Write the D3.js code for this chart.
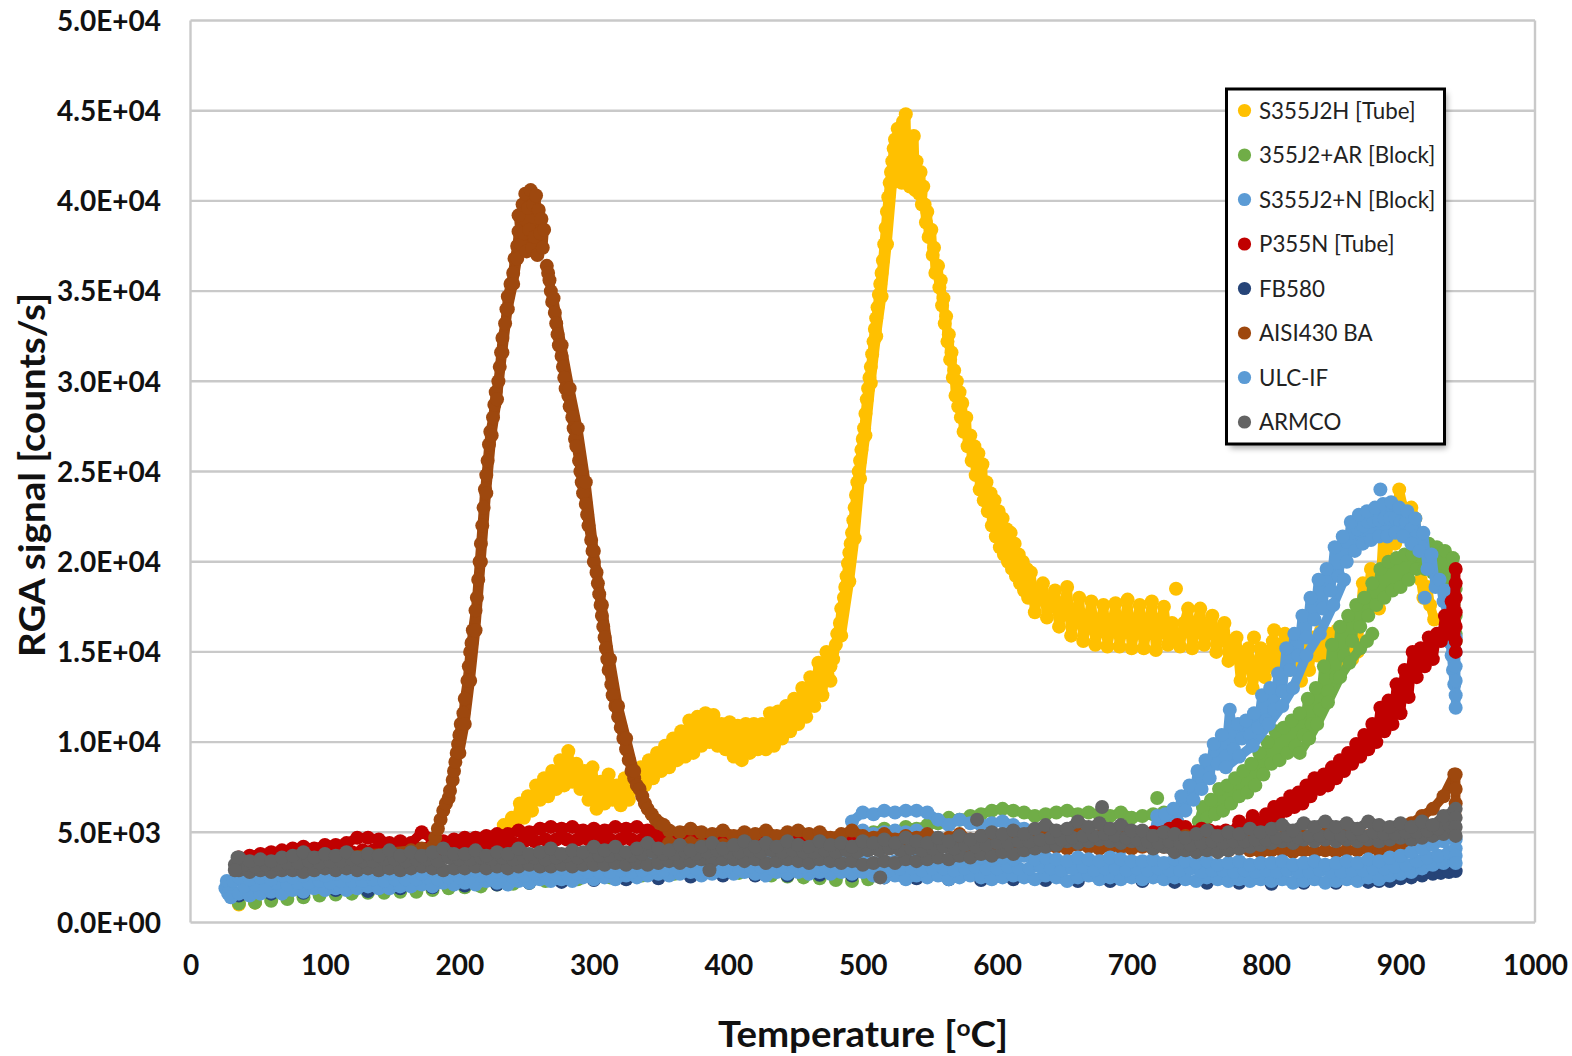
<!DOCTYPE html>
<html><head><meta charset="utf-8">
<script src="https://cdn.jsdelivr.net/npm/d3@7"></script>
<style>html,body{margin:0;padding:0;background:#fff;overflow:hidden}text{font-family:Lato,Carlito,sans-serif}</style>
</head><body><svg id="c" width="1572" height="1056"></svg>
<script>
// All signal values are in thousands of counts/s.
const yTickLabels=["0.0E+00","5.0E+03","1.0E+04","1.5E+04","2.0E+04","2.5E+04","3.0E+04","3.5E+04","4.0E+04","4.5E+04","5.0E+04"];
const yTicks=[0,5,10,15,20,25,30,35,40,45,50];
const xTicks=[0,100,200,300,400,500,600,700,800,900,1000];
const legendNames=["S355J2H [Tube]","355J2+AR [Block]","S355J2+N [Block]","P355N [Tube]","FB580","AISI430 BA","ULC-IF","ARMCO"];
const legendColors=["#ffc000","#70ad47","#5b9bd5","#c00000","#264478","#9e480e","#5b9bd5","#636363"];

const gridA=[36,44,52,60,68,76,84,92,100,108,116,124,132,140,148,156,164,172,180,188,196,204,212,220,228,236,244,252,260,268,276,284,292,300,308,316,324,332,340,348,356,364,372,380,388,396,404,412,420,428,436,444,452,460,468,476,484,492,500,508,516,524,532,540,548,556,564,572,580,588,596,604,612,620,628,636,644,652,660,668,676,684,692,700,708,716,724,732,740,748,756,764,772,780,788,796,804,812,820,828,836,844,852,860,868,876,884,892,900,908,916,924,932,940];
const gridB=[40,48,56,64,72,80,88,96,104,112,120,128,136,144,152,160,168,176,184,192,200,208,216,224,232,240,248,256,264,272,280,288,296,304,312,320,328,336,344,352,360,368,376,384,392,400,408,416,424,432,440,448,456,464,472,480,488,496,504,512,520,528,536,544,552,560,568,576,584,592,600,608,616,624,632,640,648,656,664,672,680,688,696,704,712,720,728,736,744,752,760,768,776,784,792,800,808,816,824,832,840,848,856,864,872,880,888,896,904,912,920,928,936];

// S355J2H
const yellowLowT=[36,48,60,72,84,96,108,120,132,144,156,168,180,192,204,216,228];
const yellowLowV=[1.0,1.1,1.4,1.5,1.7,1.9,2.1,2.4,2.6,2.9,3.1,3.3,3.5,3.7,3.9,4.2,4.6];
const yellowHumpT=[230,233,236,239,242,245,248,251,254,257,260,263,266,269,272,275,278,281,284,287,290,293,296,299,302,305,308,311,314,317,320,323,326,329,332,335,338,341,344,347,350,353,356,359,362,365,368,371,374,377,380,383,386,389,392,395,398,401,404,407,410,413,416,419,422,425,428,431,434,437,440,443,446,449,452,455,458,461,464,467,470,473,476];
const yellowHumpV=[4.8,5.4,5.0,5.8,5.6,6.6,5.8,7.0,6.2,7.6,6.8,8.0,7.0,8.4,7.4,9.0,7.6,9.5,7.8,8.8,7.4,8.4,6.8,8.6,6.3,7.8,6.6,8.2,6.8,7.6,6.5,8.0,6.8,7.8,7.4,8.6,7.6,9.0,8.0,9.4,8.4,9.8,8.6,10.2,9.0,10.6,9.2,11.2,9.4,11.4,9.8,11.6,10.0,11.5,9.8,11.0,9.6,11.1,9.2,10.9,9.0,11.0,9.4,11.0,9.6,11.0,9.6,11.6,9.8,11.7,10.2,12,10.6,12.4,11,13,11.4,13.6,12,14.4,12.6,15,13.4];
const yellowMidT=[276,284,292,300,308,316,324,332,340,348,356,364,372,380,388,396,404,412,420,428,436,444,452,460,468,476];
const yellowMidV=[8.4,8.6,8,7.5,7.4,7.2,7.4,8,8.4,8.9,9.4,9.8,10.3,10.7,10.8,10.4,10.0,10.0,10.3,10.3,10.7,11.3,12,12.5,13.5,14.2];
const yellowRiseT=[478,480,481,483,484,486,487,488,489,490,491,492,493,494,495,496,497,498,499,500,501,502,503,504,505,506,507,508,509,510,511,512,513,514,515,516,517,518,519,520,521,522,523,524];
const yellowRiseV=[14.6,15.4,16,16.6,17.4,18,18.6,19.2,19.9,20.5,21,21.6,22.3,23,23.7,24.4,25,25.6,26.2,26.8,27.4,28.2,29,29.6,30.2,30.8,31.5,32.2,32.9,33.5,34.1,34.8,35.4,36,36.7,37.6,38.5,39.4,40.2,41,41.6,42.2,42.9,43.4];
const yellowRise2T=[484,490,494,498,502,506,510,514,518,522,526];
const yellowRise2V=[15.9,18.9,21.3,24.6,27.0,29.9,32.5,34.7,37.6,41,42.5];
const yellowTopT=[525,526,527,528,529,530,531,532,533,534,535,536,537,538,539,540,541,542,543,544,545];
const yellowTopV=[41.2,44.0,42,43.6,41,44.4,42.4,44.8,41.4,43.4,40.8,42.8,41.6,43.6,40.6,42.2,41.2,40.4,41.6,39.8,40.8];
const yellowFallT=[546,547,548,549,551,552,553,554,556,557,558,559,560,561,562,563,564,565,566,567,568,569,570,571,572,573,574,575,577,578,580,581,583,584,586,587,589,590,592,593,595,596,598,599,601,602,604,605,607,608,610,611,613,614,616,617,619,620,622,623];
const yellowFallV=[39.8,38.8,39.4,38,38.4,37,37.4,36,36.4,35.2,35.6,34.2,34.6,33.2,33.6,32.2,32.6,31.2,31.6,30.2,30.6,29.2,30,28.6,29.4,28,28.8,27.2,28,26.4,27,25.6,26.4,24.8,26,24,25.4,23.4,24.4,22.8,23.8,22,23.4,21.4,22.8,20.8,22.4,20.4,21.8,20,21.6,19.6,21,19.2,20.4,18.8,20,18.4,19.6,18];
const yellowPlateauT=[625,628,631,634,637,640,643,646,649,652,655,658,661,664,667,670,673,676,679,682,685,688,691,694,697,700,703,706,709,712,715,718,721,724,727,730,736,739,742,745,748,751,754,757,760,763,766,769,772,775,778,781,784,787,790,793,796,799,802,805,808,811,814,817,820];
const yellowPlateauV=[19.4,17.2,18.4,18.8,16.9,18,18.4,16.4,17.4,18.6,15.9,17,18,15.6,16.6,17.8,15.4,16.4,17.6,15.3,16.4,17.7,15.3,16.4,17.9,15.2,16.4,17.6,15.2,16.4,17.8,15.1,16.5,17.5,15.4,16.6,15.3,16.6,17.4,15.2,16.4,17.4,15.4,16.4,17,15,16.2,16.6,14.5,15.6,15.8,13.4,14.8,15.2,13,14.2,15.2,13.6,14.8,15.6,14,15,16,14,15.2];
const yellowOutT=[733,791,806];
const yellowOutV=[18.5,15.8,16.2];
const yellowEndT=[823,826,829,832,835,838,841,844,847,850,853,856,860,864,868,872,875,878,881,884,887,890,893,896,899,902,905,908,911,913,915,917,920,922,925];
const yellowEndV=[14.6,13.4,15.2,14,15.8,14.8,16.2,14.4,16,14.6,16.2,14.4,15.8,14.6,15,18.8,17.6,19.6,18.4,17.4,21.4,20,22.6,21,24,23,22,23,22.4,20.6,19,18,18.6,17.6,16.8];

// 355J2+AR
const greenLowT=[36,48,60,72,84,96,108,120,132,144,156,168,180,192,204,216,228,240,252,264,276,288,300,312,324,336,348,360,372,384,396,408,420,432,444,456,468,480,492,504];
const greenLowV=[1.05,1.1,1.2,1.3,1.4,1.5,1.55,1.6,1.65,1.65,1.7,1.7,1.8,1.9,1.95,2.0,2.1,2.15,2.2,2.3,2.35,2.4,2.45,2.5,2.55,2.6,2.65,2.7,2.75,2.8,2.75,2.75,2.75,2.6,2.55,2.5,2.45,2.35,2.3,2.4];
const greenBandV=[5.0,5.2,5.0,5.3,5.2,5.4,5.5,5.8,5.7,5.9,6.0,6.2,6.3,6.2,6.1,5.9,6.0,6.1,6.2,6.0,6.1,6.0,5.9,6.1,5.8,5.9,6.0,6.1];
const greenRiseT=[750,753,756,759,762,765,768,771,774,777,780,783,786,789,792,795,798,801,804,807,810,813,816,819,822,825,828,831,834,837,840,843,846,849,852,855,858,861,864,867,870,873,876,879,882,885,888,891,894,897,900,903,906,909,912,915,918,921,924,927,930,933,936,939,941,941,941,941];
const greenRiseV=[5.6,6.4,5.8,6.8,6.0,7.4,6.2,7.6,6.6,8.0,7.0,8.4,7.2,8.8,7.6,9.4,8.2,10,8.8,10.6,9.0,10.8,9.4,11.2,9.8,11.6,10.4,12.4,11,13,11.8,14.2,12.8,15.4,13.6,16.4,14.8,17,15.6,17.6,16.4,18,17,18.8,17.6,19.6,18,20,18.4,20.2,18.6,20.4,19,20.4,19.6,20.8,19.6,21,19.4,20.8,19.2,20.6,18.4,20.2,17,16,15.6,18.5];
const greenLow2T=[825,832,838,846,855,862,870,875,879];
const greenLow2V=[9.4,10.2,11,12.2,13.6,14.4,15.2,15.6,16];
const greenOutT=[719];
const greenOutV=[6.9];

// S355J2+N
const blueBandT=[492,500,508,516,524,532,540,548,556,564,572,580,588,596,604,612,620,628,636,644,652,660,668,676,684,692,700,708];
const blueBandTopV=[5.6,6.1,6.0,6.2,6.1,6.2,6.2,6.1,5.7,5.4,5.7,5.5,5.4,5.5,5.6,5.4,5.2,5.0,4.9,5.0,4.8,4.9,4.8,4.7,4.8,4.7,4.8,4.9];
const blueBandLowV=[4.9,5.1,4.9,5.0,5.1,5.0,5.1,4.9,4.7,4.6,4.7,4.5,4.6,4.5,4.6,4.5,4.4,4.3,4.2,4.3,4.2,4.3,4.2,4.1,4.2,4.1,4.2,4.3];
const blueRiseT=[716,719,722,725,728,731,734,737,740,743,746,749,752,755,758,761,764,767,770,773,776,779,782,785,788,791,794,797,800,803,806,809,812,815,818,821,824,827,830,833,836,839,842,845,848,851,854,857,860,863,866,869,872,875,878,881,884,887,890,893,896,899,902,905,908,911,914,917,920,923,926,929,932,933,934,935,936,937,938,939,940,941,941,941,941,941,941];
const blueRiseV=[4.6,5.9,4.9,6.0,5.2,6.3,5.6,7.0,6.2,7.6,6.8,8.4,7.4,9.0,8.0,9.9,8.8,10.4,9.2,11.8,9.6,11.0,10.2,11.2,10.4,11.6,10.8,12.6,11.2,13.0,11.8,13.8,12.8,15.2,14.0,16.0,14.8,17.0,15.8,18.0,16.8,19.0,17.4,19.6,18.4,20.8,19.2,21.4,20,22.2,20.6,22.6,21,22.8,21.2,23,21.4,23.2,21.4,23.3,21.6,23,21.4,22.8,21,22.4,20.6,21.6,19.6,20.4,18.6,19,17.8,18.4,17,16,16.5,15.5,14.8,14,13.2,15.8,15,14.2,13.4,12.6,11.9];
const bluePeakT=[860,864,868,872,876,880,884,888,892,896,900,904,908,912,916];
const bluePeakV=[21.1,21.6,21.8,22,22.2,22.3,22.3,22.4,22.4,22.4,22.2,22.2,21.8,21.4,20.8];
const blueLow2T=[770,780,790,802,812,820,830,840,850,858];
const blueLow2V=[8.6,9.2,9.8,11,12,13,14.8,16,17.6,19];
const blueOutT=[885,918];
const blueOutV=[24,18];

// P355N
const redTopV=[3.6,3.7,3.8,3.9,4.0,4.1,4.2,4.1,4.3,4.3,4.4,4.7,4.7,4.6,4.4,4.5,4.4,5.0,4.6,4.5,4.6,4.7,4.7,4.8,4.9,4.9,5.1,5.0,5.2,5.3,5.2,5.3,5.1,5.2,5.1,5.3,5.2,5.3,5.1,5.2,5.0,4.9,4.8];
const redMidV=[3.3,3.4,3.5,3.6,3.7,3.7,3.8,3.8,3.9,3.9,3.9,4.0,4.0,4.0,4.0,4.1,4.1,4.1,4.1,4.1,4.1,4.2,4.2,4.3,4.4,4.4,4.5,4.5,4.6,4.6,4.6,4.6,4.6,4.6,4.6,4.6,4.6,4.6,4.6,4.6,4.5,4.4];
const redFlatT=[380,396,412,428,444,460,476,492,508,524,540,556,572,588,604,620,636,652,668,684,700,716,728,734,740,746,752,758,764,770];
const redFlatV=[4.8,4.8,4.7,4.7,4.6,4.6,4.5,4.5,4.4,4.4,4.4,4.4,4.4,4.4,4.5,4.5,4.6,4.7,4.8,4.8,4.9,5.0,5.2,5.4,5.3,5.0,5.2,5.1,5.0,5.1];
const redRiseT=[775,780,785,790,795,800,803,806,809,812,815,818,821,824,827,830,833,836,840,843,846,849,852,855,858,861,864,867,870,873,876,879,882,885,888,891,894,897,900,903,906,909,912,915,918,921,924,927,930,933,936,938,940,941,941,941,941,941,941,941];
const redRiseV=[5.0,5.6,5.2,5.9,5.5,6.0,5.7,6.4,5.9,6.6,6.2,7.0,6.4,7.2,6.6,7.6,7,8.0,7.4,8.2,7.6,8.6,8,9,8.4,9.4,8.8,9.9,9.2,10.4,9.6,11,10,11.9,10.6,12.3,11,13.2,11.6,14,12.5,15,13.6,15.2,14.2,15.8,14.6,16,15.6,17,16,17.8,16.6,19.6,18.8,18,17.2,16.4,15.6,15];

// FB580
const navyT=[36,60,84,108,132,156,180,204,228,252,276,300,324,348,372,396,420,444,468,492,516,540,564,588,612,636,660,684,708,732,756,780,804,828,852,876,884,892,900,908,916,924,930,936,941];
const navyV=[1.5,1.6,1.65,1.8,1.75,1.9,1.95,2.05,2.1,2.2,2.25,2.35,2.4,2.45,2.55,2.6,2.6,2.6,2.65,2.6,2.5,2.45,2.4,2.35,2.4,2.35,2.3,2.3,2.3,2.25,2.2,2.2,2.15,2.2,2.2,2.25,2.3,2.3,2.45,2.5,2.6,2.7,2.75,2.8,2.85];

// AISI430 BA
const brownLowT=[36,52,68,84,100,116,132,148,164,172];
const brownLowV=[3.0,3.1,3.3,3.5,3.6,3.7,3.8,3.9,4.0,4.1];
const brownRiseT=[178,180,182,184,186,188,190,192,193,195,196,197,198,199,200,201,203,204,206,207,208,209,210,212,213,214,215,216,217,218,219,220,221,222,223,225,226,227,229,230,231,232,234,235,236,238,240,241,243,244];
const brownRiseV=[4.0,4.2,4.7,5.2,5.7,6.2,6.6,6.9,7.3,7.9,8.4,8.9,9.4,9.9,10.4,11,11.6,12.4,13.4,14.2,15,15.5,16.2,17.3,18,19,20,21,22,23,24,24.8,25.6,26.5,27.2,28,28.7,29.4,30,30.8,31.6,32.4,33.2,34,34.7,35.4,36,36.8,37.5,38.3];
const brownRise2T=[200,204,208,212,216,220,224,228,232,236,240,243];
const brownRise2V=[9.4,11,13.4,16.2,20,23.8,27,29,31.6,34,35.4,36.8];
const brownTopT=[244,246,247,248,249,250,251,252,253,254,255,256,257,258,259,260,261,262,263];
const brownTopV=[39.2,37.6,39.8,38.2,40.4,37.2,39.6,38.4,40.6,37.4,39.8,38.0,40.3,37.0,39.5,38.2,39.0,37.4,38.4];
const brownFallT=[265,266,267,268,269,271,272,273,274,276,277,278,279,281,282,284,285,286,287,289,290,291,292,294,295,296,298,299,300,302,303,304,305,306,307,308,309,310,311,313,314,316,318,320,322,324,326,328,330,332,334,336,338,340,343,346,349,352];
const brownFallV=[36.4,36,35.6,35,34.4,33.8,33.2,32.6,32,31.4,30.8,30.2,29.6,29.2,28.6,28,27.4,26.8,26.4,25.6,25,24.4,23.8,23.2,22.6,22,21.2,20.6,20,19.4,18.8,18.2,17.6,17,16.4,15.8,15.2,14.6,14,13.2,12.6,12,11.4,10.8,10.2,9.6,9,8.4,8,7.6,7.4,7,6.6,6.3,6,5.7,5.5,5.4];
const brownFall2T=[270,276,282,288,294,300,306,312,318,324,330];
const brownFall2V=[34.6,32,29.6,27.4,24.4,20.6,17.6,14.6,12,10.2,8.4];
const brownBandTopV=[5.1,5.0,5.2,5.0,4.9,5.1,4.8,5.0,4.9,5.1,4.8,5.0,5.1,4.9,5.0,4.7,4.9,5.1,4.8,4.7,4.9,4.6,4.8,4.7,4.9,4.6,4.7,4.9,4.6,4.8,4.7,4.6,4.8,4.6,4.7,4.9,4.7,4.8,4.9,4.7,4.8,4.9,4.7,4.8,4.6,4.8,4.7,4.6,4.8,4.7,4.6,4.7,4.6,4.8,4.7,4.5,4.8,4.7,4.6,4.8,4.7,4.9,4.7,4.9,5.0,4.8,5.1,5.0,5.3,5.5,5.9,6.3,7.0,8.2];
const brownBandLowV=[4.4,4.3,4.4,4.3,4.2,4.3,4.2,4.3,4.2,4.3,4.2,4.2,4.3,4.2,4.3,4.2,4.1,4.2,4.1,4.2,4.1,4.2,4.1,4.1,4.2,4.1,4.2,4.1,4.2,4.1,4.2,4.1,4.2,4.2,4.1,4.2,4.2,4.1,4.3,4.2,4.1,4.2,4.2,4.1,4.2,4.1,4.2,4.1,4.2,4.1,4.1,4.0,4.0,4.1,4.0,3.9,4.0,4.0,3.9,4.0,3.9,4.0,3.9,4.0,4.0,4.1,4.0,4.1,4.2,4.3,4.4,4.6,5.2,6.0];
const brownEndT=[941,941,941];
const brownEndV=[8.2,7.4,6.6];

// ULC-IF
const ulcEdgeT=[26,27,28,30,32];
const ulcEdgeV=[1.9,2.3,1.6,1.4,2.3];
const ulcLowV=[1.6,1.5,1.6,1.7,1.6,1.8,1.7,1.9,1.8,1.9,1.8,1.9,2.0,1.9,1.9,2.0,2.0,2.1,2.0,2.2,2.1,2.2,2.1,2.3,2.2,2.1,2.3,2.2,2.4,2.3,2.4,2.3,2.5,2.4,2.5,2.4,2.6,2.5,2.6,2.7,2.6,2.7,2.8,2.6,2.7,2.8,2.7,2.8,2.7,2.6,2.8,2.7,2.8,2.7,2.8,2.7,2.8,2.7,2.8,2.6,2.5,2.6,2.4,2.6,2.5,2.6,2.4,2.5,2.6,2.5,2.4,2.5,2.6,2.5,2.4,2.6,2.5,2.3,2.5,2.6,2.4,2.5,2.4,2.5,2.4,2.5,2.4,2.5,2.4,2.3,2.5,2.4,2.3,2.4,2.3,2.4,2.3,2.4,2.2,2.3,2.4,2.2,2.3,2.4,2.3,2.5,2.4,2.6,2.7,2.8,3.0,3.2,3.3,3.4];
const ulcMidV=[2.0,2.1,2.0,2.2,2.1,2.2,2.2,2.3,2.2,2.3,2.3,2.3,2.4,2.3,2.4,2.4,2.4,2.5,2.4,2.5,2.5,2.5,2.6,2.5,2.6,2.5,2.6,2.7,2.6,2.7,2.7,2.7,2.8,2.8,2.8,2.9,2.8,2.9,3.0,2.9,3.0,3.0,3.0,3.1,3.0,3.1,3.0,3.1,3.1,3.0,3.1,3.1,3.1,3.0,3.1,3.1,3.0,3.1,3.1,3.0,2.9,3.0,3.0,2.9,3.0,3.0,2.9,3.0,3.1,3.0,3.0,3.1,3.0,3.0,3.1,3.0,2.9,3.0,3.1,2.9,3.0,3.0,2.9,3.0,2.9,3.0,2.9,2.9,3.0,2.8,2.9,2.9,2.8,2.9,2.8,2.9,2.8,2.9,2.8,2.8,2.9,2.8,2.8,2.9,2.9,3.0,3.0,3.1,3.2,3.4,3.6,3.7,3.9];
const ulcTopV=[2.5,2.4,2.5,2.4,2.6,2.5,2.6,2.7,2.6,2.7,2.6,2.7,2.7,2.8,2.7,2.8,2.8,2.7,2.9,2.8,2.9,2.8,2.9,2.9,2.8,3.0,2.9,3.0,2.9,3.0,3.0,3.1,3.0,3.1,3.1,3.2,3.1,3.2,3.3,3.2,3.3,3.4,3.3,3.4,3.3,3.4,3.4,3.3,3.4,3.5,3.3,3.4,3.5,3.4,3.5,3.3,3.4,3.5,3.4,3.3,3.4,3.4,3.3,3.5,3.4,3.3,3.5,3.4,3.5,3.6,3.5,3.6,3.5,3.7,3.5,3.6,3.5,3.4,3.6,3.5,3.4,3.6,3.5,3.4,3.4,3.5,3.3,3.5,3.4,3.3,3.4,3.2,3.3,3.4,3.2,3.3,3.3,3.4,3.2,3.3,3.4,3.2,3.3,3.4,3.3,3.5,3.4,3.6,3.7,3.9,4.1,4.3,4.5,4.7];
const ulcEndT=[941,941,941,941];
const ulcEndV=[4.6,4.1,3.7,3.3];

// ARMCO
const grayTopV=[3.6,3.4,3.5,3.4,3.6,3.7,3.9,3.6,3.8,3.7,3.9,3.6,3.8,3.7,4.0,3.7,3.9,3.7,3.9,4.1,3.8,3.8,4.0,3.7,3.9,3.8,4.1,3.8,3.9,4.1,3.8,4.0,3.9,4.2,4.0,4.2,3.9,4.1,4.4,4.1,4.0,4.3,4.0,4.2,4.4,4.1,4.3,4.5,4.2,4.4,4.2,4.5,4.3,4.2,4.5,4.3,4.4,4.2,4.5,4.4,4.6,4.4,4.7,4.5,4.4,4.7,4.5,4.8,4.6,4.8,5.0,4.9,5.1,4.9,5.2,5.4,5.1,5.2,5.6,5.3,5.5,5.2,5.4,5.1,5.1,4.8,5.0,4.9,4.7,4.9,5.1,4.8,5.0,4.9,5.2,5.0,5.2,5.4,5.1,5.5,5.3,5.6,5.3,5.5,5.2,5.6,5.4,5.3,5.5,5.3,5.6,5.4,5.9,6.2];
const grayMidV=[3.2,3.1,3.2,3.2,3.3,3.3,3.4,3.3,3.4,3.4,3.5,3.4,3.4,3.5,3.5,3.4,3.5,3.5,3.4,3.6,3.5,3.5,3.6,3.5,3.6,3.5,3.6,3.6,3.5,3.6,3.7,3.6,3.7,3.7,3.7,3.8,3.7,3.8,3.9,3.8,3.8,3.9,3.8,3.9,4.0,3.9,3.9,4.0,3.9,4.0,3.9,4.0,3.9,3.9,4.0,3.9,4.0,3.9,4.0,4.0,4.1,4.0,4.1,4.0,4.1,4.2,4.1,4.3,4.2,4.3,4.4,4.4,4.5,4.5,4.6,4.7,4.6,4.7,4.8,4.8,4.9,4.8,4.7,4.6,4.5,4.4,4.5,4.4,4.3,4.4,4.5,4.4,4.5,4.5,4.6,4.6,4.7,4.8,4.7,4.8,4.8,4.9,4.8,4.9,4.8,5.0,4.9,4.9,5.0,5.0,5.1,5.2,5.4];
const grayLowV=[2.9,2.8,2.9,2.8,2.9,2.9,2.8,2.9,3.0,2.9,3.0,2.9,3.0,2.9,3.0,2.9,3.0,3.1,3.0,2.9,3.0,3.0,3.1,3.0,3.1,3.0,3.1,3.2,3.1,3.1,3.2,3.1,3.2,3.2,3.2,3.3,3.2,3.3,3.2,3.3,3.4,3.3,3.4,3.5,3.4,3.5,3.5,3.4,3.5,3.3,3.4,3.5,3.4,3.3,3.5,3.4,3.3,3.4,3.2,3.3,3.4,3.3,3.5,3.4,3.5,3.6,3.5,3.7,3.6,3.8,3.7,3.9,3.8,4.0,4.1,4.2,4.3,4.5,4.4,4.5,4.6,4.5,4.4,4.5,4.3,4.1,4.2,3.9,4.0,3.9,4.0,3.9,4.0,4.1,4.2,4.3,4.4,4.5,4.4,4.6,4.5,4.6,4.5,4.6,4.5,4.6,4.5,4.6,4.7,4.6,4.7,4.8,4.9,5.0];
const grayColT=[941,941,941,941];
const grayColV=[6.3,5.8,5.3,4.8];
const grayOutT=[33,35,33,386,513,585,678];
const grayOutV=[3.2,3.6,2.9,2.9,2.5,5.7,6.4];

const W=1572,H=1056,R=7;
const x=d3.scaleLinear().domain([0,1000]).range([190.5,1535]);
const y=d3.scaleLinear().domain([0,50]).range([922.5,20.5]);
const svg=d3.select("#c");

// grid and frame
const gridColor="#c9c9c9";
svg.append("g").selectAll("line").data(yTicks).join("line")
 .attr("x1",x(0)).attr("x2",x(1000)).attr("y1",d=>y(d)).attr("y2",d=>y(d))
 .attr("stroke",gridColor).attr("stroke-width",2.4);
svg.append("g").selectAll("line").data([0,1000]).join("line")
 .attr("y1",y(0)).attr("y2",y(50)).attr("x1",d=>x(d)).attr("x2",d=>x(d))
 .attr("stroke",gridColor).attr("stroke-width",2.4);

// axes labels
const yAxis=d3.axisLeft(y).tickValues(yTicks).tickSize(0).tickPadding(0).tickFormat((d,i)=>yTickLabels[i]);
const gy=svg.append("g").attr("transform",`translate(161,0)`).call(yAxis);
gy.select(".domain").remove();
gy.selectAll("text").attr("font-size",28).attr("font-weight",700).attr("fill","#111").attr("font-family","Lato").attr("dy","0.35em");
const xAxis=d3.axisBottom(x).tickValues(xTicks).tickSize(0).tickPadding(0).tickFormat(d=>d);
const gx=svg.append("g").attr("transform",`translate(0,975)`).call(xAxis);
gx.select(".domain").remove();
gx.selectAll("text").attr("font-size",28).attr("font-weight",700).attr("fill","#111").attr("font-family","Lato").attr("dy",0).attr("y",0);

// series in legend (drawing) order
function pts(ts,vs){return d3.zip(ts,vs);}
const seriesRows=[
 [pts(yellowMidT,yellowMidV),pts(yellowHumpT,yellowHumpV),pts(yellowRiseT,yellowRiseV),pts(yellowRise2T,yellowRise2V),pts(yellowTopT,yellowTopV),pts(yellowFallT,yellowFallV),pts(yellowPlateauT,yellowPlateauV),pts(yellowEndT,yellowEndV)],
 [pts(gridA.slice(59),greenBandV),pts(greenRiseT,greenRiseV),pts(greenLow2T,greenLow2V)],
 [pts(blueBandT,blueBandLowV),pts(blueBandT,blueBandTopV),pts(bluePeakT,bluePeakV),pts(blueRiseT,blueRiseV),pts(blueLow2T,blueLow2V)],
 [pts(gridB,redMidV),pts(gridA,redTopV),pts(redFlatT,redFlatV),pts(redRiseT,redRiseV)],
 [],
 [pts(brownLowT,brownLowV),pts(gridA.slice(40),brownBandLowV),pts(gridA.slice(40),brownBandTopV),pts(brownRiseT,brownRiseV),pts(brownRise2T,brownRise2V),pts(brownTopT,brownTopV),pts(brownFallT,brownFallV),pts(brownFall2T,brownFall2V),pts(brownEndT,brownEndV)],
 [pts(ulcEdgeT,ulcEdgeV),pts(gridA,ulcLowV),pts(gridB,ulcMidV),pts(gridA,ulcTopV),pts(ulcEndT,ulcEndV)],
 [pts(gridA,grayLowV),pts(gridB,grayMidV),pts(gridA,grayTopV),pts(grayColT,grayColV)]
];
// points that stand alone, with no dense trace behind them
const seriesLoose=[pts(yellowLowT,yellowLowV).concat(pts(yellowOutT,yellowOutV)),pts(greenLowT,greenLowV).concat(pts(greenOutT,greenOutV)),pts(blueOutT,blueOutV),[],pts(navyT,navyV),[],[],pts(grayOutT,grayOutV)];
const plot=svg.append("g");
const scan=d3.line().x(d=>x(d[0])).y(d=>y(d[1]));
seriesRows.forEach((rows,i)=>{
 const g=plot.append("g");
 g.append("g").attr("fill","none").attr("stroke",legendColors[i]).attr("stroke-width",9.5).attr("stroke-linejoin","round").attr("stroke-linecap","round")
  .selectAll("path").data(rows).join("path").attr("d",scan);
 g.append("g").attr("fill",legendColors[i]).selectAll("circle").data(rows.flat().concat(seriesLoose[i])).join("circle")
  .attr("cx",d=>x(d[0])).attr("cy",d=>y(d[1])).attr("r",R);
});

// legend
const defs=svg.append("defs");
const f=defs.append("filter").attr("id","sh").attr("x","-10%").attr("y","-10%").attr("width","125%").attr("height","125%");
f.append("feGaussianBlur").attr("stdDeviation",3);
const lg=svg.append("g");
lg.append("rect").attr("x",1230).attr("y",93).attr("width",217).attr("height",355).attr("fill","#000").attr("opacity",.35).attr("filter","url(#sh)");
lg.append("rect").attr("x",1226.5).attr("y",89).attr("width",218).attr("height",355).attr("fill","#fff").attr("stroke","#000").attr("stroke-width",3);
const rowY=d3.scalePoint().domain(d3.range(8)).range([110.5,422]);
legendNames.forEach((n,i)=>{
 lg.append("circle").attr("cx",1244.5).attr("cy",rowY(i)).attr("r",6.6).attr("fill",legendColors[i]);
 const t=lg.append("text").attr("x",1259).attr("y",rowY(i)+8).attr("font-size",24).attr("fill","#222").text(n);
 t.attr("textLength",t.node().getComputedTextLength()*0.93).attr("lengthAdjust","spacingAndGlyphs");
});

// titles
svg.append("text").attr("x",863).attr("y",1047).attr("text-anchor","middle").attr("font-size",36).attr("font-weight",700).attr("fill","#111")
 .attr("textLength",290).attr("lengthAdjust","spacingAndGlyphs")
 .html('Temperature [<tspan dy="-11" font-size="23">o</tspan><tspan dy="11">C]</tspan>');
svg.append("text").attr("transform","translate(45,475) rotate(-90)").attr("text-anchor","middle").attr("font-size",36).attr("font-weight",700).attr("fill","#111")
 .attr("textLength",364).attr("lengthAdjust","spacingAndGlyphs").text("RGA signal [counts/s]");
</script></body></html>
